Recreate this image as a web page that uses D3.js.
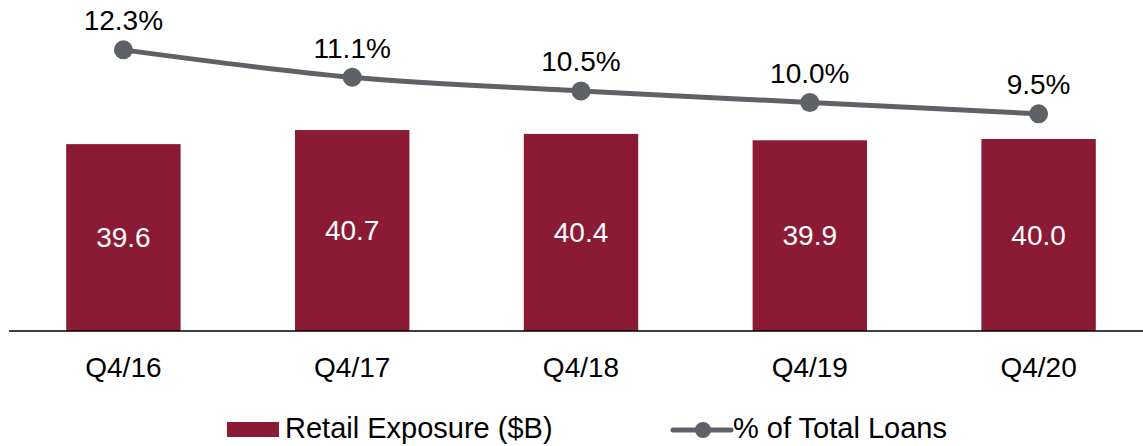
<!DOCTYPE html>
<html>
<head>
<meta charset="utf-8">
<script src="https://cdn.jsdelivr.net/npm/d3@7"></script>
<style>
  html, body { margin: 0; padding: 0; background: #fff; }
  svg { display: block; font-family: "Liberation Sans", Arial, sans-serif; }
</style>
</head>
<body>
<svg id="chart" width="1143" height="446"></svg>
<script>
const categories = ["Q4/16", "Q4/17", "Q4/18", "Q4/19", "Q4/20"];
const exposure = [39.6, 40.7, 40.4, 39.9, 40.0];       // Retail Exposure ($B)
const loanShare = [12.3, 11.1, 10.5, 10.0, 9.5];       // % of Total Loans
const seriesNames = ["Retail Exposure ($B)", "% of Total Loans"];

const barColor = "#8B1A35";
const lineColor = "#5E6266";
const fontSize = 28;
const legendFontSize = 29;

const svg = d3.select("#chart");
const plotTop = 11, plotBottom = 331;

const x = d3.scaleBand().domain(categories).range([9, 1153]).paddingInner(0.5).paddingOuter(0.25);
const yBar = d3.scaleLinear().domain([25, 50]).range([plotBottom, plotTop]);
const yLine = d3.scaleLinear().domain([0, 14]).range([plotBottom, plotTop]);

// bars
svg.append("g").selectAll("rect")
  .data(categories)
  .join("rect")
  .attr("x", d => x(d))
  .attr("width", x.bandwidth())
  .attr("y", (d, i) => yBar(exposure[i]))
  .attr("height", (d, i) => plotBottom - yBar(exposure[i]))
  .attr("fill", barColor);

// bar value labels
svg.append("g").selectAll("text")
  .data(categories)
  .join("text")
  .attr("x", d => x(d) + x.bandwidth() / 2)
  .attr("y", (d, i) => (yBar(exposure[i]) + plotBottom) / 2)
  .attr("dy", "0.35em")
  .attr("text-anchor", "middle")
  .attr("fill", "#fff")
  .attr("font-size", fontSize)
  .text((d, i) => exposure[i].toFixed(1));

// category axis
const xAxis = svg.append("g")
  .attr("transform", `translate(0,${plotBottom})`)
  .call(d3.axisBottom(x).tickSize(0).tickPadding(26));
xAxis.select(".domain").attr("stroke", "#000").attr("stroke-width", 1.5).attr("d", "M9,0H1143");
xAxis.selectAll("text").attr("font-size", fontSize).attr("fill", "#000")
  .attr("font-family", "Liberation Sans, Arial, sans-serif");

// line series
const cx = d => x(d) + x.bandwidth() / 2;
const line = d3.line().x(d => cx(d)).y((d, i) => yLine(loanShare[i])).curve(d3.curveMonotoneX);
svg.append("path")
  .datum(categories)
  .attr("d", line)
  .attr("fill", "none")
  .attr("stroke", lineColor)
  .attr("stroke-width", 5);

svg.append("g").selectAll("circle")
  .data(categories)
  .join("circle")
  .attr("cx", cx)
  .attr("cy", (d, i) => yLine(loanShare[i]))
  .attr("r", 9.5)
  .attr("fill", lineColor);

svg.append("g").selectAll("text")
  .data(categories)
  .join("text")
  .attr("x", cx)
  .attr("y", (d, i) => yLine(loanShare[i]) - 29.5)
  .attr("dy", "0.35em")
  .attr("text-anchor", "middle")
  .attr("fill", "#000")
  .attr("font-size", fontSize)
  .text((d, i) => loanShare[i].toFixed(1) + "%");

// legend
const legend = svg.append("g");
legend.append("rect")
  .attr("x", 227).attr("y", 422).attr("width", 52).attr("height", 15)
  .attr("fill", barColor);
legend.append("text")
  .attr("x", 285).attr("y", 427.5).attr("dy", "0.35em")
  .attr("font-size", legendFontSize).attr("fill", "#000")
  .text(seriesNames[0]);
legend.append("line")
  .attr("x1", 673).attr("x2", 731).attr("y1", 430).attr("y2", 430)
  .attr("stroke", lineColor).attr("stroke-width", 5).attr("stroke-linecap", "round");
legend.append("circle")
  .attr("cx", 703).attr("cy", 430).attr("r", 8)
  .attr("fill", lineColor);
legend.append("text")
  .attr("x", 733).attr("y", 427.5).attr("dy", "0.35em")
  .attr("font-size", legendFontSize).attr("fill", "#000")
  .text(seriesNames[1]);
</script>
</body>
</html>
